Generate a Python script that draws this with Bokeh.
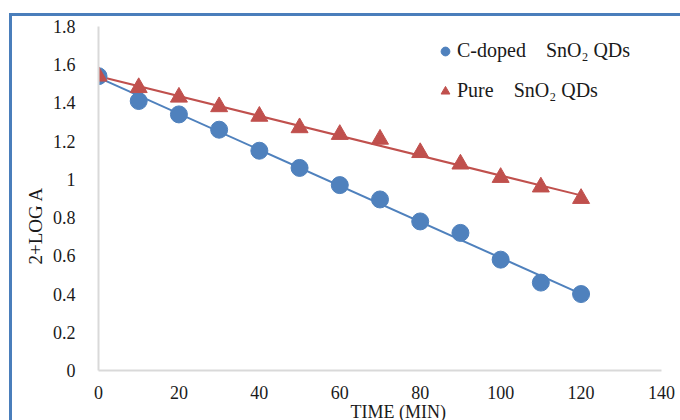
import numpy as np
from bokeh.plotting import figure
from bokeh.models import (Title, Legend, LegendItem, FixedTicker,
                          NumeralTickFormatter, ColumnDataSource)
from bokeh.embed import file_html
from bokeh.resources import INLINE

# ---- data ----
time_min = [0, 10, 20, 30, 40, 50, 60, 70, 80, 90, 100, 110, 120]
c_doped = [1.54, 1.41, 1.34, 1.26, 1.15, 1.06, 0.97, 0.895, 0.78, 0.72, 0.58, 0.46, 0.40]
pure = [1.54, 1.48, 1.43, 1.38, 1.33, 1.27, 1.235, 1.21, 1.14, 1.08, 1.01, 0.96, 0.90]
x_ticks = [0, 20, 40, 60, 80, 100, 120, 140]
y_ticks = [0, 0.2, 0.4, 0.6, 0.8, 1, 1.2, 1.4, 1.6, 1.8]
label_c = "C-doped\u00a0\u00a0\u00a0 SnO\u2082 QDs"
label_p = "Pure\u00a0\u00a0\u00a0 SnO\u2082 QDs"
x_title = "TIME (MIN)"
y_title = "2+LOG A"

BLUE = "#4f81bd"
RED = "#c0504d"
FONT = "Liberation Serif"

# linear trend lines computed from the data
xa = np.array(time_min, dtype=float)
fit_c = np.polyfit(xa, np.array(c_doped), 1)
fit_p = np.polyfit(xa, np.array(pure), 1)
trend_x = [time_min[0], time_min[-1]]
trend_c = list(np.polyval(fit_c, trend_x))
trend_p = list(np.polyval(fit_p, trend_x))

p = figure(width=680, height=420, x_range=(0, 140), y_range=(0, 1.8),
           output_backend="svg", toolbar_location=None,
           min_border_left=98, min_border_right=19, min_border_top=26,
           min_border_bottom=50)
p.outline_line_color = None
p.xgrid.visible = False
p.ygrid.visible = False
p.background_fill_color = "white"
p.border_fill_color = "white"

for ax in (p.xaxis[0], p.yaxis[0]):
    ax.axis_line_color = "#d9d9d9"
    ax.axis_line_width = 2
    ax.major_tick_line_color = None
    ax.minor_tick_line_color = None
    ax.major_label_text_font = FONT
    ax.major_label_text_font_size = "18px"
    ax.major_label_text_color = "#1a1a1a"
p.xaxis.ticker = FixedTicker(ticks=x_ticks)
p.yaxis.ticker = FixedTicker(ticks=y_ticks)
p.xaxis.formatter = NumeralTickFormatter(format="0.[0]")
p.yaxis.formatter = NumeralTickFormatter(format="0.[0]")
p.xaxis.major_label_standoff = 9
p.yaxis.major_label_standoff = 17

# trend lines
p.line(trend_x, trend_c, line_color=BLUE, line_width=2)
p.line(trend_x, trend_p, line_color=RED, line_width=2)

src = ColumnDataSource(dict(t=time_min, c=c_doped, p=pure))
rc = p.scatter("t", "c", source=src, marker="circle", size=17,
               fill_color=BLUE, line_color=BLUE)
rp = p.scatter("t", "p", source=src, marker="triangle", size=17,
               fill_color=RED, line_color=RED)

legend = Legend(items=[LegendItem(label=label_c, renderers=[rc]),
                       LegendItem(label=label_p, renderers=[rp])],
                location=(336, 268), border_line_color=None,
                background_fill_alpha=0, padding=0, margin=0,
                glyph_width=22, glyph_height=22, label_standoff=1,
                spacing=17, label_text_font=FONT,
                label_text_font_size="20px", label_text_color="#1a1a1a")
p.add_layout(legend)

# axis titles as side-panel titles
p.add_layout(Title(text=x_title, align="left", offset=252, standoff=-4,
                   text_font=FONT, text_font_size="18px",
                   text_font_style="normal", text_color="#1a1a1a"), "below")
p.add_layout(Title(text=y_title, align="left", offset=106, standoff=8,
                   text_font=FONT, text_font_size="19px",
                   text_font_style="normal", text_color="#1a1a1a"), "left")

# blue chart-area frame (top and left edges visible, rest outside the window)
p.stylesheets = [
    ":host { position: relative; }"
    ":host::after { content: ''; position: absolute; left: 9px; top: 13px;"
    " right: 0; bottom: 0; border-left: 3px solid #4a7ebb;"
    " border-top: 3px solid #4a7ebb; pointer-events: none; z-index: 100; }"
]

open("out.html", "w").write(file_html(p, INLINE))
